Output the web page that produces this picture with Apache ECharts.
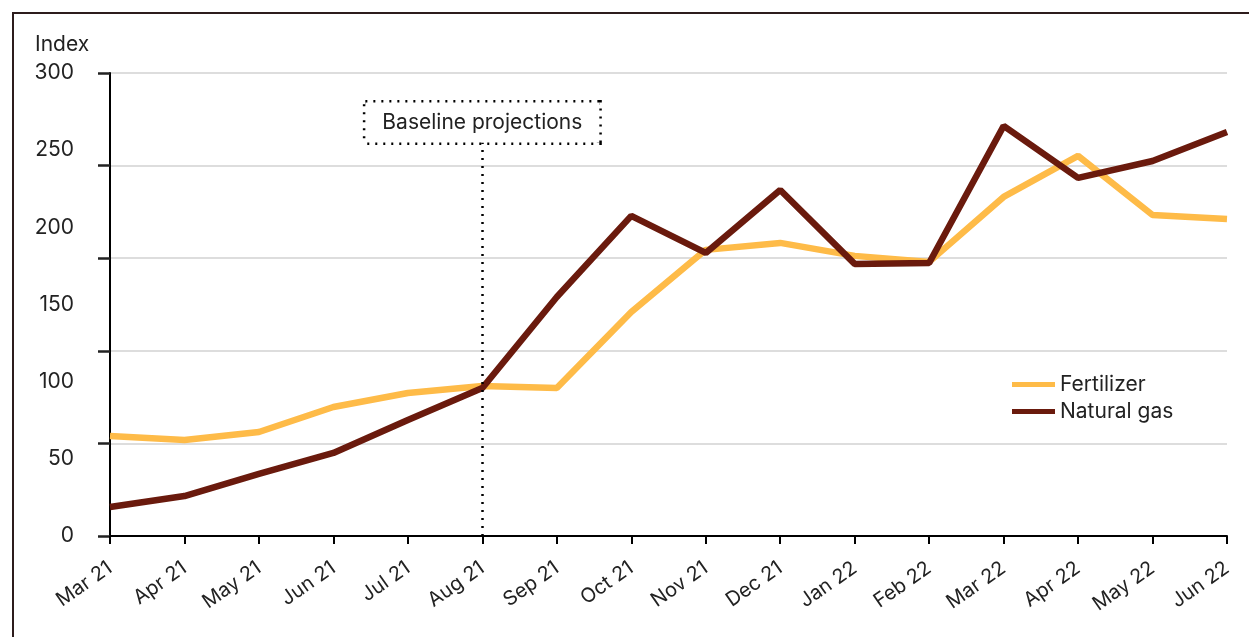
<!DOCTYPE html>
<html>
<head>
<meta charset="utf-8">
<script src="https://cdn.jsdelivr.net/npm/echarts@6/dist/echarts.min.js"></script>
<style>
  html, body { margin: 0; padding: 0; background: #fff; }
  #chart { width: 1249px; height: 637px; }
  .frame {
    position: absolute; left: 12px; top: 12px; right: -5px; bottom: -5px;
    border-left: 2px solid #2d1c1c; border-top: 2px solid #2d1c1c;
    pointer-events: none;
  }
</style>
</head>
<body>
<div id="chart"></div>
<div class="frame"></div>
<script>
const months = ["Mar 21", "Apr 21", "May 21", "Jun 21", "Jul 21", "Aug 21", "Sep 21", "Oct 21",
  "Nov 21", "Dec 21", "Jan 22", "Feb 22", "Mar 22", "Apr 22", "May 22", "Jun 22"];
const fertilizer = [64.8, 62.2, 67.4, 83.6, 92.7, 97.2, 95.9, 145.2, 185.4, 189.9, 181.5, 177.6, 219.7, 246.3, 208.0, 205.4];
const naturalGas = [18.8, 25.9, 40.2, 53.8, 75.2, 95.9, 154.9, 207.4, 183.4, 224.2, 176.3, 176.9, 265.7, 232.0, 243.0, 261.8];
const baselineMonth = "Aug 21";

const FONT = "Inter, Liberation Sans, Arial, sans-serif";
const chart = echarts.init(document.getElementById("chart"), null, { renderer: "canvas" });

const option = {
  animation: false,
  title: {
    text: "Index",
    left: 30,
    top: 29,
    textStyle: { fontFamily: FONT, fontSize: 21, fontWeight: "normal", color: "#222" },
  },
  legend: {
    orient: "vertical",
    left: 1007,
    top: 369,
    icon: "rect",
    itemWidth: 43,
    itemHeight: 5,
    itemGap: 6,
    textStyle: { fontFamily: FONT, fontSize: 21, color: "#222" },
    data: ["Fertilizer", "Natural gas"],
  },
  grid: { left: 110, right: 22, top: 73, bottom: 101 },
  xAxis: {
    type: "category",
    data: months,
    boundaryGap: false,
    axisLine: { lineStyle: { color: "#000", width: 2 } },
    axisTick: { show: true, length: 8, lineStyle: { color: "#000", width: 2 } },
    axisLabel: { rotate: 35, fontFamily: FONT, fontSize: 20, color: "#222", margin: 30, interval: 0 },
  },
  yAxis: [
    {
      type: "value",
      min: 0,
      max: 300,
      interval: 60,
      axisLine: { show: true, lineStyle: { color: "#000", width: 2 } },
      axisTick: { show: true, length: 12, lineStyle: { color: "#222", width: 2.5 } },
      axisLabel: { show: false },
      splitLine: { show: true, lineStyle: { color: "#d2d2d2", width: 1.5 } },
    },
    {
      type: "value",
      min: 0,
      max: 300,
      interval: 50,
      position: "left",
      axisLine: { show: false },
      axisTick: { show: false },
      splitLine: { show: false },
      axisLabel: { fontFamily: FONT, fontSize: 21, color: "#222", margin: 36 },
    },
  ],
  series: [
    {
      name: "Fertilizer",
      type: "line",
      data: fertilizer,
      symbol: "none",
      color: "#FEBB48",
      lineStyle: { width: 6.5, color: "#FEBB48" },
      z: 2,
    },
    {
      name: "Natural gas",
      type: "line",
      data: naturalGas,
      symbol: "none",
      color: "#6A1A0D",
      lineStyle: { width: 6.5, color: "#6A1A0D" },
      z: 3,
      markLine: {
        silent: true,
        symbol: "none",
        lineStyle: { color: "#000", width: 2.5, type: [2, 6] },
        label: {
          show: true,
          position: "end",
          distance: 0,
          formatter: "Baseline projections",
          fontFamily: FONT,
          fontSize: 21,
          color: "#222",
          backgroundColor: "#fff",
          borderColor: "#000",
          borderWidth: 2.5,
          borderType: [2, 6],
          borderRadius: 0,
          padding: [10, 17, 9, 17],
        },
        data: [[{ coord: [baselineMonth, 0] }, { coord: [baselineMonth, 255] }]],
      },
    },
  ],
};

chart.setOption(option);
window.addEventListener("resize", () => chart.resize());
</script>
</body>
</html>
